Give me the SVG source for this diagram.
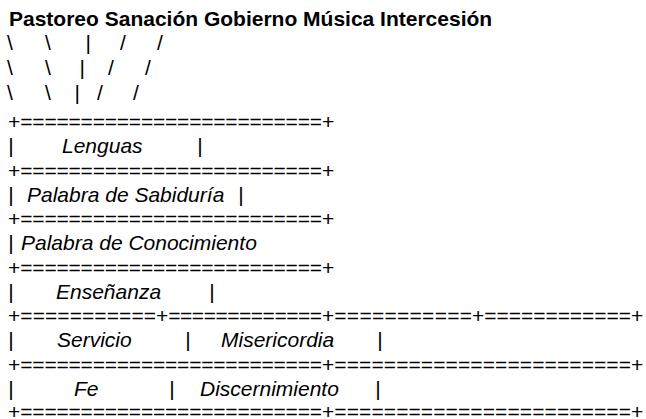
<svg xmlns="http://www.w3.org/2000/svg" width="646" height="419" viewBox="0 0 646 419">
<style>
text{font-family:"Liberation Sans",Arial,sans-serif;font-size:21px;fill:#000}
.b{font-weight:bold}
.i{font-style:italic}
</style>
<rect width="646" height="419" fill="#fff"/>
<g id="title"><text class="b" x="9" y="26">Pastoreo Sanación Gobierno Música Intercesión</text></g>
<g id="connectors">
<text x="7" y="50">\</text><text x="45" y="50">\</text><text x="85.5" y="50">|</text><text x="120" y="50">/</text><text x="157" y="50">/</text>
<text x="7" y="75">\</text><text x="45" y="75">\</text><text x="79.5" y="75">|</text><text x="108" y="75">/</text><text x="145" y="75">/</text>
<text x="7" y="100">\</text><text x="45" y="100">\</text><text x="74.5" y="100">|</text><text x="97" y="100">/</text><text x="133" y="100">/</text>
</g>
<g id="grid">
<text x="8" y="129">+</text><text x="20.3" y="129" textLength="301.7" lengthAdjust="spacing">=========================</text><text x="322" y="129">+</text>
<text x="8" y="177.5">+</text><text x="20.3" y="177.5" textLength="301.7" lengthAdjust="spacing">=========================</text><text x="322" y="177.5">+</text>
<text x="8" y="226">+</text><text x="20.3" y="226" textLength="301.7" lengthAdjust="spacing">=========================</text><text x="322" y="226">+</text>
<text x="8" y="274.5">+</text><text x="20.3" y="274.5" textLength="301.7" lengthAdjust="spacing">=========================</text><text x="322" y="274.5">+</text>
<text x="8" y="323">+</text><text x="20.3" y="323" textLength="135.7" lengthAdjust="spacing">===========</text><text x="156" y="323">+</text><text x="168.3" y="323" textLength="153.7" lengthAdjust="spacing">=============</text><text x="322" y="323">+</text><text x="334.3" y="323" textLength="137.7" lengthAdjust="spacing">===========</text><text x="472" y="323">+</text><text x="484.3" y="323" textLength="146.7" lengthAdjust="spacing">============</text><text x="631" y="323">+</text>
<text x="8" y="371.5">+</text><text x="20.3" y="371.5" textLength="301.7" lengthAdjust="spacing">=========================</text><text x="322" y="371.5">+</text><text x="334.3" y="371.5" textLength="296.7" lengthAdjust="spacing">========================</text><text x="631" y="371.5">+</text>
<text x="8" y="418.5">+</text><text x="20.3" y="418.5" textLength="301.7" lengthAdjust="spacing">=========================</text><text x="322" y="418.5">+</text><text x="334.3" y="418.5" textLength="296.7" lengthAdjust="spacing">========================</text><text x="631" y="418.5">+</text>
</g>
<g id="lenguas"><text x="8.3" y="153.25">|</text><text class="i" x="62" y="153.25">Lenguas</text><text x="197.3" y="153.25">|</text></g>
<g id="palabra-sabiduria"><text x="8.3" y="201.75">|</text><text class="i" x="27" y="201.75">Palabra de Sabiduría</text><text x="238.3" y="201.75">|</text></g>
<g id="palabra-conocimiento"><text x="8.3" y="250.25">|</text><text class="i" x="21" y="250.25">Palabra de Conocimiento</text></g>
<g id="ensenanza"><text x="8.3" y="298.75">|</text><text class="i" x="56" y="298.75">Enseñanza</text><text x="209.3" y="298.75">|</text></g>
<g id="servicio"><text x="8.3" y="347.25">|</text><text class="i" x="57" y="347.25">Servicio</text><text x="185.3" y="347.25">|</text></g>
<g id="misericordia"><text class="i" x="221" y="347.25">Misericordia</text><text x="377.3" y="347.25">|</text></g>
<g id="fe"><text x="8.3" y="395.75">|</text><text class="i" x="74" y="395.75">Fe</text><text x="169.3" y="395.75">|</text></g>
<g id="discernimiento"><text class="i" x="200" y="395.75">Discernimiento</text><text x="375.3" y="395.75">|</text></g>
</svg>
